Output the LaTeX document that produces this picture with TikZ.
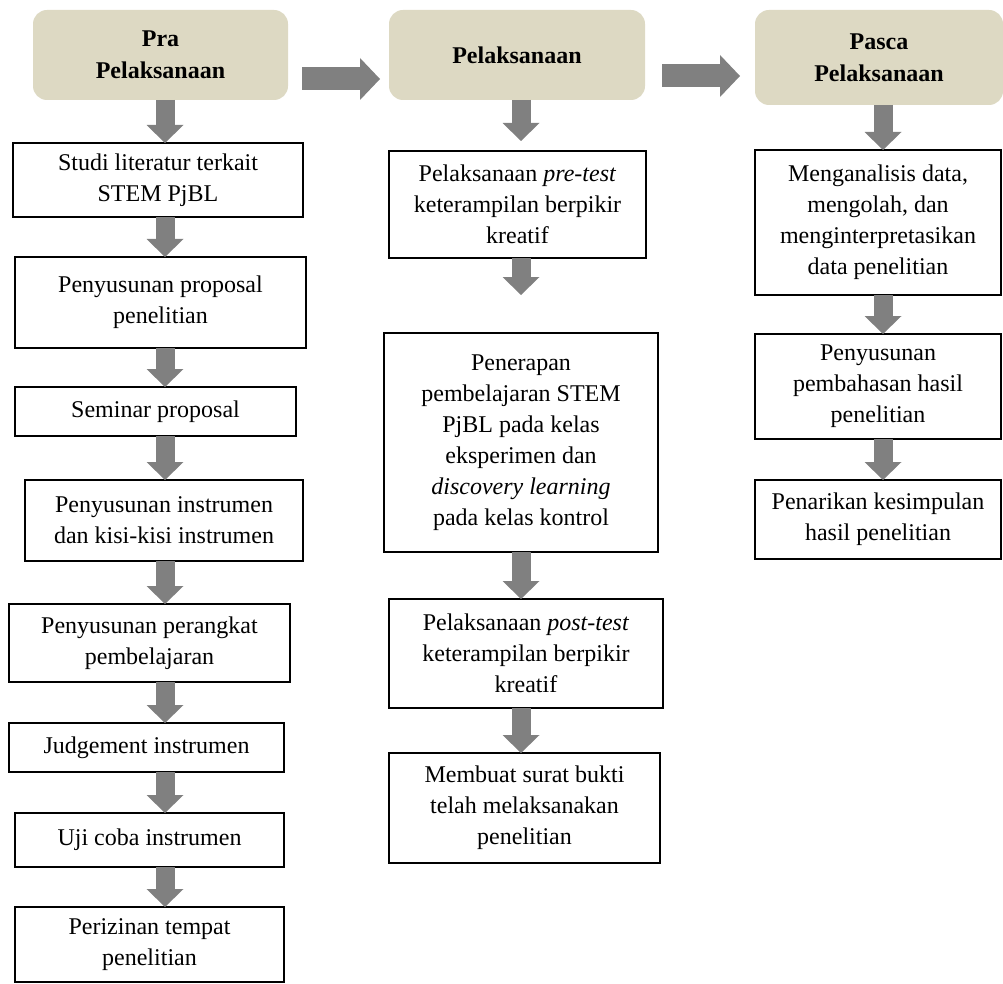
\documentclass[tikz,border=0pt]{standalone}
\usepackage{fontspec}
\setmainfont{Liberation Serif}
\usetikzlibrary{arrows.meta}
\definecolor{phasetan}{HTML}{DDD9C3}
\definecolor{arrowgray}{HTML}{808080}
\tikzset{
  phasebox/.style={ % tan heading of a stage
    rectangle, rounded corners=14pt, fill=phasetan, draw=none,
    anchor=north west, inner sep=0pt, outer sep=0pt, align=center,
    font=\fontsize{24}{32}\selectfont\bfseries
  },
  taskbox/.style={ % white box of one step
    rectangle, draw=black, line width=1.5pt, fill=white,
    anchor=north west, inner sep=0pt, outer sep=0pt, align=center,
    font=\fontsize{24}{31}\selectfont
  },
  boxsize/.style 2 args={minimum width=#1, minimum height=#2},
  downarrow/.style={ % gray block arrow between two steps
    draw=arrowgray, line width=19pt,
    -{Triangle[width=37pt,length=18pt,line width=0pt,fill=arrowgray]}
  },
  sidearrow/.style={ % gray block arrow between two stages
    draw=arrowgray, line width=23pt,
    -{Triangle[width=42pt,length=20pt,line width=0pt,fill=arrowgray]}
  }
}

\begin{document}
\begin{tikzpicture}[x=1pt, y=-1pt]
  \useasboundingbox (0,0) rectangle (1003,984);

  % stage headings
  \node[phasebox, boxsize={255pt}{90pt}] (h1) at (33,10) {Pra\\Pelaksanaan};
  \node[phasebox, boxsize={256pt}{90pt}] (h2) at (389,10) {Pelaksanaan};
  \node[phasebox, boxsize={248pt}{95pt}] (h3) at (755,10) {Pasca\\Pelaksanaan};

  \draw[sidearrow, shorten <=14pt, shorten >=9pt]
    ([yshift=-24pt]h1.east) -- ([yshift=-24pt]h1.east -| h2.west);
  \draw[sidearrow, shorten <=17pt, shorten >=15pt]
    ([yshift=-21pt]h2.east) -- ([yshift=-21pt]h2.east -| h3.west);

  % column axes for the down arrows
  \coordinate (axisA) at (165,0);
  \coordinate (axisB) at (521,0);
  \coordinate (axisC) at (883,0);

  % Pra Pelaksanaan
  \node[taskbox, boxsize={290pt}{74pt}] (a1) at (13,143) {Studi literatur  terkait\\STEM PjBL};
  \node[taskbox, boxsize={291pt}{91pt}] (a2) at (15,257) {Penyusunan proposal\\penelitian};
  \node[taskbox, boxsize={281pt}{49pt}] (a3) at (15,387) {Seminar proposal};
  \node[taskbox, boxsize={278pt}{81pt}] (a4) at (25,480) {Penyusunan instrumen\\dan kisi-kisi instrumen};
  \node[taskbox, boxsize={281pt}{78pt}] (a5) at (9,604) {Penyusunan perangkat\\pembelajaran};
  \node[taskbox, boxsize={275pt}{49pt}] (a6) at (9,723) {Judgement instrumen};
  \node[taskbox, boxsize={269pt}{54pt}] (a7) at (15,813) {Uji coba instrumen};
  \node[taskbox, boxsize={269pt}{75pt}] (a8) at (15,907) {Perizinan tempat\\penelitian};

  % Pelaksanaan
  \node[taskbox, boxsize={257pt}{107pt}] (b1) at (389,151) {Pelaksanaan \textit{pre-test}\\keterampilan berpikir\\kreatif};
  \node[taskbox, boxsize={274pt}{219pt}] (b2) at (384,333) {Penerapan\\pembelajaran STEM\\PjBL pada kelas\\eksperimen dan\\\textit{discovery learning}\\pada kelas kontrol};
  \node[taskbox, boxsize={274pt}{109pt}] (b3) at (389,599) {Pelaksanaan \textit{post-test}\\keterampilan berpikir\\kreatif};
  \node[taskbox, boxsize={271pt}{110pt}] (b4) at (389,753) {Membuat surat bukti\\telah melaksanakan\\penelitian};

  % Pasca Pelaksanaan
  \node[taskbox, boxsize={246pt}{145pt}] (c1) at (755,150) {Menganalisis data,\\mengolah, dan\\menginterpretasikan\\data penelitian};
  \node[taskbox, boxsize={246pt}{105pt}] (c2) at (755,334) {Penyusunan\\pembahasan hasil\\penelitian};
  \node[taskbox, boxsize={246pt}{79pt}] (c3) at (755,480) {Penarikan kesimpulan\\hasil penelitian};

  % down arrows
  \draw[downarrow] (h1.south -| axisA) -- (a1.north -| axisA);
  \draw[downarrow] (a1.south -| axisA) -- (a2.north -| axisA);
  \draw[downarrow] (a2.south -| axisA) -- (a3.north -| axisA);
  \draw[downarrow] (a3.south -| axisA) -- (a4.north -| axisA);
  \draw[downarrow] (a4.south -| axisA) -- (a5.north -| axisA);
  \draw[downarrow] (a5.south -| axisA) -- (a6.north -| axisA);
  \draw[downarrow] (a6.south -| axisA) -- (a7.north -| axisA);
  \draw[downarrow] (a7.south -| axisA) -- (a8.north -| axisA);

  \draw[downarrow] (h2.south -| axisB) -- ([yshift=10pt]b1.north -| axisB);
  \draw[downarrow] (b1.south -| axisB) -- ([yshift=38pt]b2.north -| axisB);
  \draw[downarrow] (b2.south -| axisB) -- (b3.north -| axisB);
  \draw[downarrow] (b3.south -| axisB) -- (b4.north -| axisB);

  \draw[downarrow] (h3.south -| axisC) -- (c1.north -| axisC);
  \draw[downarrow] (c1.south -| axisC) -- (c2.north -| axisC);
  \draw[downarrow] (c2.south -| axisC) -- (c3.north -| axisC);
\end{tikzpicture}
\end{document}
